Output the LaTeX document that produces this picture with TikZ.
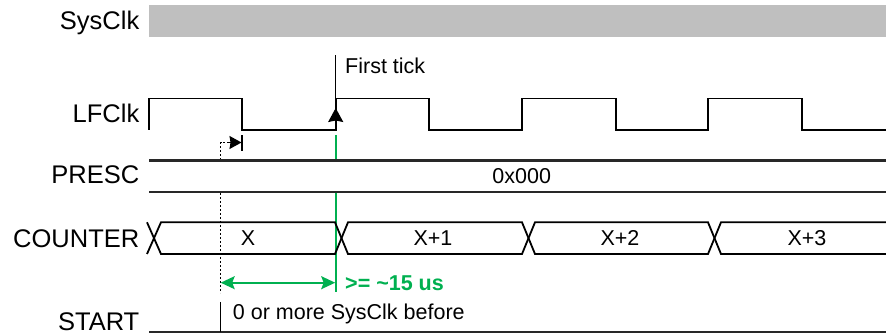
\documentclass[tikz,border=0pt]{standalone}
\usepackage{fontspec}
\setmainfont{Liberation Sans}
\usetikzlibrary{arrows.meta}
\definecolor{barGray}{RGB}{191,191,191}
\definecolor{okGreen}{RGB}{0,176,80}
\definecolor{lineDark}{RGB}{40,40,40}
\tikzset{
  siglabel/.style={anchor=base east, inner sep=0pt, font=\fontsize{25.5}{28}\selectfont},
  smalltext/.style={inner sep=0pt, font=\fontsize{21.5}{24}\selectfont},
  wave/.style={line width=1.8pt, black, line join=miter},
  busline/.style={line width=2.2pt, lineDark},
  greenline/.style={line width=1.6pt, okGreen},
  dotline/.style={line width=1.2pt, dash pattern=on 2pt off 2pt},
}
\begin{document}
\begin{tikzpicture}[x=1pt,y=-1pt]
\useasboundingbox (0,0) rectangle (886,336);
% labels
\node[siglabel] (lSys) at (139.5,30) {SysClk};
\node[siglabel] (lLF) at (139.5,122.3) {LFClk};
\node[siglabel] (lPre) at (139.5,184) {PRESC};
\node[siglabel] (lCnt) at (139.5,247.3) {COUNTER};
\node[siglabel] (lSta) at (139.5,331) {START};
% SysClk bar
\fill[barGray] (149,5) rectangle (886,36.7);
% LFClk waveform
\draw[wave] (149,130) -- (149,98.5) -- (242,98.5) -- (242,130) -- (335.7,130) -- (335.7,98.5)
  -- (429,98.5) -- (429,130) -- (522,130) -- (522,98.5) -- (615.7,98.5) -- (615.7,130)
  -- (708,130) -- (708,98.5) -- (801.7,98.5) -- (801.7,130) -- (886,130);
% first tick
\coordinate (tickTop) at (335.7,55);
\coordinate (tickBot) at (335.7,130);
\coordinate (tickTip) at (335.7,108);
\draw[line width=1.5pt] (tickBot) -- (tickTop);
\draw[line width=1.5pt, -{Stealth[length=14pt,width=15pt,inset=1.5pt]}] (tickBot) -- (tickTip);
\node[smalltext, anchor=base west] (ftick) at (345,74) {First tick};
% dotted delay arrow
\coordinate (dStart) at (220.7,160);
\coordinate (dCorner) at (220.7,142.5);
\coordinate (dTip) at (241.5,142.5);
\draw[dotline] (dStart) -- (dCorner) -- (230,142.5);
\draw[line width=1.2pt, -{Stealth[length=12pt,width=13pt,inset=1pt]}] (229,142.5) -- (dTip);
\draw[line width=1.5pt] (242,135.5) -- (242,151);
% PRESC
\draw[busline] (149,160.5) -- (886,160.5);
\draw[busline] (149,192) -- (886,192);
\node[smalltext, anchor=base] (presv) at (521.7,184) {0x000};
% green markers
\draw[greenline] (335.7,135) -- (335.7,159.5);
\draw[greenline] (335.7,193) -- (335.7,292);
% dotted vertical
\draw[dotline] (220.7,193) -- (220.7,293);
% COUNTER bus
\draw[wave] (147,222.3) -- (161,254) -- (335,254) -- (348,222.3) -- (522,222.3)
  -- (535,254) -- (708,254) -- (721,222.3) -- (886,222.3);
\draw[wave] (147,254) -- (161,222.3) -- (335,222.3) -- (348,254) -- (522,254)
  -- (535,222.3) -- (708,222.3) -- (721,254) -- (886,254);
\node[smalltext, anchor=base] (c0) at (248,245.5) {X};
\node[smalltext, anchor=base] (c1) at (433,245.5) {X+1};
\node[smalltext, anchor=base] (c2) at (620,245.5) {X+2};
\node[smalltext, anchor=base] (c3) at (807,245.5) {X+3};
% green double arrow
\coordinate (gL) at (220.7,282.7);
\coordinate (gR) at (335.2,282.7);
\draw[greenline, line width=1.8pt, {Stealth[length=14pt,width=13pt,inset=2.5pt]}-{Stealth[length=14pt,width=13pt,inset=2.5pt]}] (gL) -- (gR);
\node[smalltext, anchor=base west, text=okGreen, font=\fontsize{21.5}{24}\selectfont\bfseries] (gtext) at (345,291) {>= \textasciitilde15 us};
% START
\draw[busline] (149,331.7) -- (886,331.7);
\draw[line width=1.5pt] (220.7,302) -- (220.7,331.7);
\node[smalltext, anchor=base west] (stext) at (232.7,320) {0 or more SysClk before};
\end{tikzpicture}
\end{document}
